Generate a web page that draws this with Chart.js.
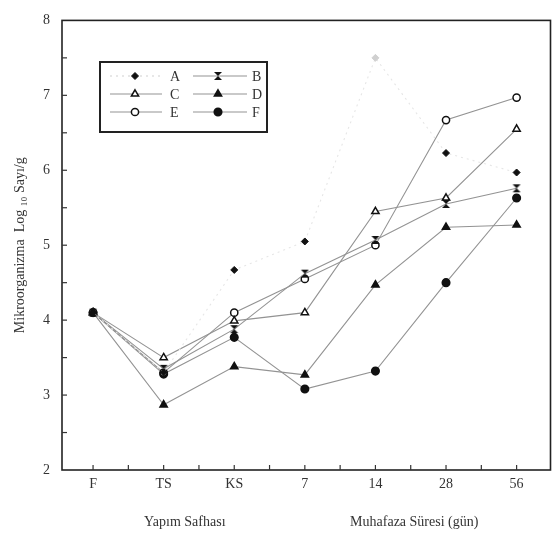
<!DOCTYPE html>
<html><head><meta charset="utf-8">
<script src="https://cdn.jsdelivr.net/npm/chart.js@4"></script>
<style>html,body{margin:0;padding:0;background:#fff}#c{display:block}</style>
</head><body>
<canvas id="c" width="557" height="550"></canvas>
<script>
const categories = ['F','TS','KS','7','14','28','56'];
const seriesA = [4.1, 3.3, 4.67, 5.05, 7.5, 6.23, 5.97];
const seriesB = [4.1, 3.35, 3.88, 4.62, 5.07, 5.55, 5.76];
const seriesC = [4.1, 3.5, 3.99, 4.1, 5.45, 5.63, 6.55];
const seriesD = [4.1, 2.87, 3.38, 3.27, 4.47, 5.24, 5.27];
const seriesE = [4.1, 3.3, 4.1, 4.55, 5.0, 6.67, 6.97];
const seriesF = [4.1, 3.28, 3.77, 3.08, 3.32, 4.5, 5.63];
const yTicks = [2,3,4,5,6,7,8];
const groupLabels = [{text:'Yapım Safhası', at:1.3},{text:'Muhafaza Süresi (gün)', at:4.55}];
const FONT = '"Liberation Serif", "DejaVu Serif", serif';

function hourglass(){
  const c=document.createElement('canvas'); c.width=10; c.height=10;
  const g=c.getContext('2d'); g.fillStyle='#111';
  g.beginPath(); g.moveTo(1,1); g.lineTo(9,1); g.lineTo(5,5); g.closePath(); g.fill();
  g.beginPath(); g.moveTo(1,9); g.lineTo(9,9); g.lineTo(5,5); g.closePath(); g.fill();
  return c;
}
const hg = hourglass();
const pts = a => a.map((v,i)=>({x:i,y:v}));
const base = {showLine:true, borderWidth:1.1, borderColor:'#939393', pointBorderColor:'#111', pointBorderWidth:1.5};
const datasets = [
  Object.assign({}, base, {label:'A', data:pts(seriesA), borderColor:'#e6e6e6', borderDash:[2,4], pointStyle:'rectRot', pointRadius:3.5, pointBackgroundColor:['#111','#111','#111','#111','#d0d0d0','#111','#111'], pointBorderColor:['#111','#111','#111','#111','#d0d0d0','#111','#111'], pointBorderWidth:1}),
  Object.assign({}, base, {label:'B', data:pts(seriesB), pointStyle:hg, pointRadius:5}),
  Object.assign({}, base, {label:'C', data:pts(seriesC), pointStyle:'triangle', pointRadius:4.2, pointBackgroundColor:'#fff'}),
  Object.assign({}, base, {label:'D', data:pts(seriesD), pointStyle:'triangle', pointRadius:4.2, pointBackgroundColor:'#111'}),
  Object.assign({}, base, {label:'E', data:pts(seriesE), pointStyle:'circle', pointRadius:3.6, pointBackgroundColor:'#fff'}),
  Object.assign({}, base, {label:'F', data:pts(seriesF), pointStyle:'circle', pointRadius:3.8, pointBackgroundColor:'#111'})
];

const decor = {
  id:'decor',
  afterDraw(chart){
    const ctx=chart.ctx, a=chart.chartArea, xs=chart.scales.x, ys=chart.scales.y;
    ctx.save();
    ctx.strokeStyle='#222'; ctx.lineWidth=1.6;
    ctx.strokeRect(a.left, a.top, a.right-a.left, a.bottom-a.top);
    ctx.lineWidth=1.2; ctx.strokeStyle='#333';
    for(let v=0; v<=6.01; v+=0.5){
      const px=xs.getPixelForValue(v);
      ctx.beginPath(); ctx.moveTo(px,a.bottom); ctx.lineTo(px,a.bottom-5); ctx.stroke();
    }
    for(let v=2.5; v<8; v+=0.5){
      const py=ys.getPixelForValue(v);
      ctx.beginPath(); ctx.moveTo(a.left,py); ctx.lineTo(a.left+5,py); ctx.stroke();
    }
    ctx.fillStyle='#333'; ctx.font='14px '+FONT; ctx.textAlign='center'; ctx.textBaseline='middle';
    groupLabels.forEach(g=>ctx.fillText(g.text, xs.getPixelForValue(g.at), 522));
    const L={x:100,y:62,w:167,h:70};
    ctx.fillStyle='#fff'; ctx.fillRect(L.x,L.y,L.w,L.h);
    ctx.strokeStyle='#222'; ctx.lineWidth=2; ctx.strokeRect(L.x,L.y,L.w,L.h);
    const cols=[{x1:110,x2:162,m:135,t:170},{x1:193,x2:247,m:218,t:252}];
    const rows=[76,94,112];
    chart.data.datasets.forEach((ds,i)=>{
      const c=cols[i%2], y=rows[Math.floor(i/2)];
      ctx.strokeStyle= i===0 ? '#cfcfcf' : ds.borderColor; ctx.lineWidth=1.1; ctx.setLineDash(ds.borderDash||[]);
      ctx.beginPath(); ctx.moveTo(c.x1,y); ctx.lineTo(c.x2,y); ctx.stroke(); ctx.setLineDash([]);
      const bg=Array.isArray(ds.pointBackgroundColor)?ds.pointBackgroundColor[0]:ds.pointBackgroundColor;
      const bc=Array.isArray(ds.pointBorderColor)?ds.pointBorderColor[0]:ds.pointBorderColor;
      ctx.fillStyle=bg||'#111'; ctx.strokeStyle=bc; ctx.lineWidth=ds.pointBorderWidth;
      Chart.helpers.drawPoint(ctx,{pointStyle:ds.pointStyle, radius:ds.pointRadius, borderWidth:ds.pointBorderWidth, rotation:0}, c.m, y);
      ctx.fillStyle='#333'; ctx.font='14px '+FONT; ctx.textAlign='left'; ctx.textBaseline='middle';
      ctx.fillText(ds.label, c.t, y+1);
    });
    ctx.restore();
  }
};

new Chart(document.getElementById('c'), {
  type:'scatter',
  data:{datasets},
  options:{
    responsive:false, animation:false,
    layout:{padding:{left:12,right:3,top:12,bottom:0}},
    plugins:{legend:{display:false}, tooltip:{enabled:false}},
    scales:{
      x:{type:'linear', min:-0.44, max:6.48,
        afterBuildTicks:s=>{s.ticks=categories.map((c,i)=>({value:i}));},
        afterFit:s=>{s.height=80;},
        grid:{display:false, drawTicks:false}, border:{display:false},
        ticks:{padding:6, color:'#333', font:{family:FONT,size:14}, callback:v=>categories[v]}},
      y:{min:2, max:8,
        afterBuildTicks:s=>{s.ticks=yTicks.map(v=>({value:v}));},
        afterFit:s=>{s.width=50;},
        grid:{display:false, drawTicks:false}, border:{display:false},
        ticks:{padding:12, color:'#333', font:{family:FONT,size:14}},
        title:{display:true, text:'Mikroorganizma  Log ₁₀ Sayı/g', color:'#333', font:{family:FONT,size:14}, padding:{top:0,bottom:4}}}
    }
  },
  plugins:[decor]
});
</script>
</body></html>
